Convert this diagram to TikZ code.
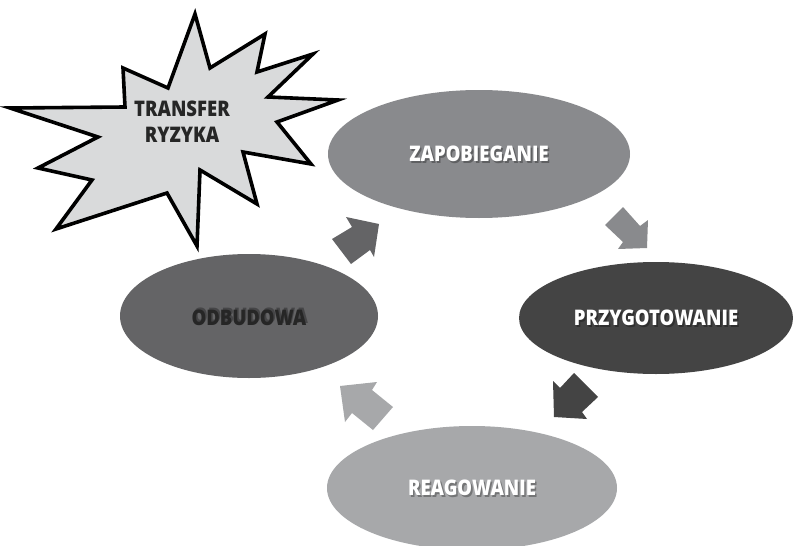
\documentclass[tikz,border=0pt]{standalone}
\usepackage{fontspec}
\usetikzlibrary{shapes.geometric}
\IfFontExistsTF{Open Sans SemiBold}
  {\newfontfamily\lblfont{Open Sans SemiBold}[FakeStretch=0.86]}
  {\IfFontExistsTF{Open Sans Semibold}
    {\newfontfamily\lblfont{Open Sans Semibold}[FakeStretch=0.86]}
    {\newfontfamily\lblfont{Open Sans}[FakeStretch=0.82,UprightFont=*,UprightFeatures={FakeBold=0}]}}
\definecolor{zapcol}{HTML}{898A8D}
\definecolor{przcol}{HTML}{444444}
\definecolor{odbcol}{HTML}{646466}
\definecolor{reacol}{HTML}{A7A8AA}
\definecolor{starcol}{HTML}{D9DADB}
\definecolor{txtdark}{HTML}{262626}
\tikzset{
  ell/.style={ellipse, inner sep=0pt, draw=none},
  lbl/.style={font=\lblfont\bfseries\fontsize{21.5}{26}\selectfont, inner sep=0pt, align=center},
  shd/.style={lbl, text=black, opacity=0.3},
  starline/.style={draw=black, line width=3.6pt, line join=miter, miter limit=20, fill=starcol}
}
\begin{document}
\begin{tikzpicture}[x=1pt,y=-1pt]
\useasboundingbox (0,0) rectangle (793,546);
\clip (0,0) rectangle (793,546);
\fill[white] (0,0) rectangle (793,546);

% star
\draw[starline] (195,14) -- (210,68) -- (265,34) -- (257,72) -- (313,54) -- (268,97)
  -- (338,100) -- (277,122) -- (311,164) -- (243,152) -- (257,204) -- (200,170)
  -- (197,246) -- (167,193) -- (56,229) -- (92,180) -- (38,168) -- (98,137)
  -- (10,108) -- (125,107) -- (123,68) -- (168,88) -- cycle;
\node[lbl, text=txtdark] (transfer) at (182,122) {TRANSFER\\RYZYKA};

% ellipses
\node[ell, fill=zapcol, minimum width=302, minimum height=128] (zap) at (479,154) {};
\node[ell, fill=przcol, minimum width=274, minimum height=112] (prz) at (656,318) {};
\node[ell, fill=odbcol, minimum width=258, minimum height=124] (odb) at (249,316) {};
\node[ell, fill=reacol, minimum width=290, minimum height=124] (rea) at (472,488) {};

% labels with shadows
\node[shd] at ([shift={(1.6,1.6)}]zap.center) {ZAPOBIEGANIE};
\node[lbl, text=white] (zapt) at (zap.center) {ZAPOBIEGANIE};
\node[shd] at ([shift={(1.6,1.6)}]prz.center) {PRZYGOTOWANIE};
\node[lbl, text=white] (przt) at (prz.center) {PRZYGOTOWANIE};
\node[shd] at ([shift={(1.6,-0.4)}]odb.center) {ODBUDOWA};
\node[lbl, text=txtdark] (odbt) at ([yshift=-2]odb.center) {ODBUDOWA};
\node[shd] at ([shift={(1.6,1.6)}]rea.center) {REAGOWANIE};
\node[lbl, text=white] (reat) at (rea.center) {REAGOWANIE};

% block arrows
\fill[odbcol] (379,224) -- (346,217) -- (352,227) -- (332,239) -- (351,264) -- (370,250) -- (374,257) -- cycle;
\fill[zapcol] (647,248) -- (648,220) -- (640,226) -- (623,207) -- (605,225) -- (623,242) -- (618,249) -- cycle;
\fill[przcol] (554,417) -- (553,381) -- (560,388) -- (574,373) -- (598,397) -- (582,412) -- (587,419) -- cycle;
\fill[reacol] (340,386) -- (377,382) -- (372,390) -- (393,407) -- (373,430) -- (352,413) -- (345,422) -- cycle;
\end{tikzpicture}
\end{document}
